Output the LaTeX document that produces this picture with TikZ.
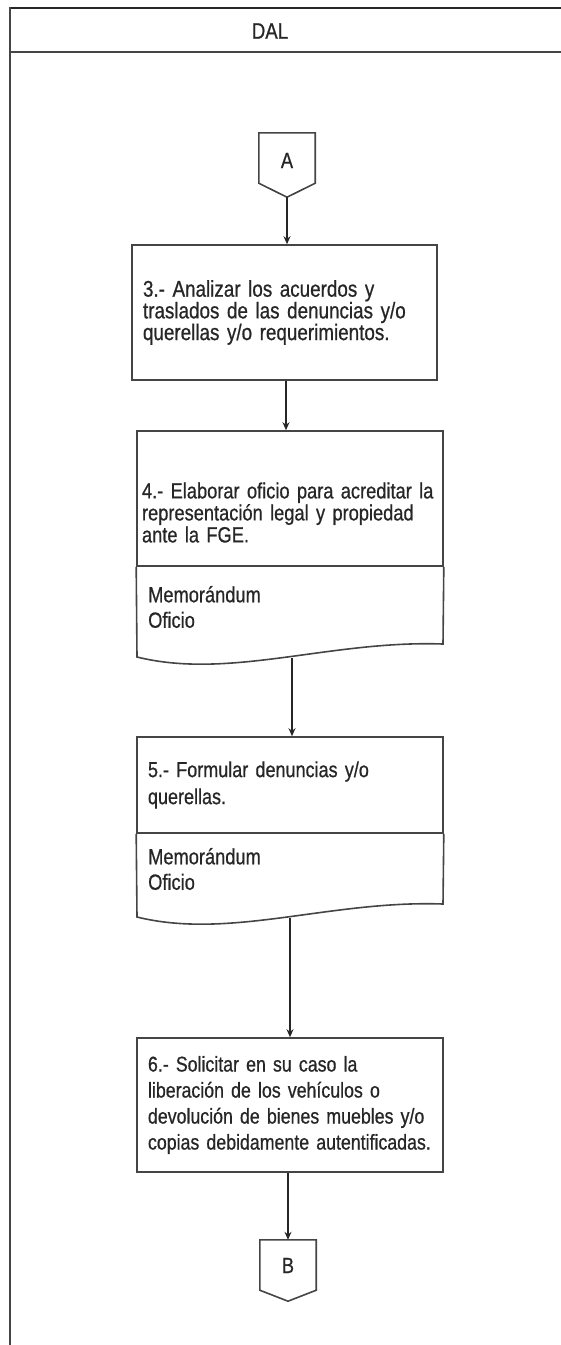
\documentclass[tikz,border=0pt]{standalone}
\usepackage{fontspec}
\setmainfont{Liberation Sans}[FakeStretch=0.83, FakeBold=0.7]
\usetikzlibrary{arrows.meta}
\definecolor{ink}{HTML}{262626}
\definecolor{edge}{HTML}{454545}
\begin{document}
\begin{tikzpicture}[x=1pt,y=-1pt,
  every node/.style={text=ink},
  txt/.style n args={2}{font=\fontsize{#1}{#2}\selectfont},
  stepbox/.style={draw=edge, line width=1.6pt, minimum width=306, text width=284,
    inner xsep=11, inner ysep=0, align=left},
  docline/.style={draw=edge, line width=1.6pt},
  memo/.style={inner sep=0, align=left, font=\fontsize{22}{25.5}\selectfont},
  offpage/.style={minimum width=56, inner sep=0, text height=16, text depth=10,
    font=\fontsize{22}{22}\selectfont},
  conn/.style={draw=ink, line width=1.3pt, -{Stealth[length=8pt,width=7pt]}}
]
\useasboundingbox (0,0) rectangle (561,1345);

% swimlane frame and header
\draw[line width=2.4pt, draw=ink] (9,8) -- (561,8);
\draw[line width=2pt, draw=edge] (9,52) -- (561,52);
\draw[line width=2.2pt, draw=edge] (10,7) -- (10,1345);
\node[txt={22.5}{22}] (lane) at (270,31) {DAL};

% off-page connector A
\node[offpage, minimum height=64] (a) at (287,165) {A};
\draw[docline] (a.north west) -- (a.north east) -- ([yshift=14pt]a.south east)
  -- (a.south) -- ([yshift=14pt]a.south west) -- cycle;

% step 3
\node[stepbox, txt={22.7}{21.7}, minimum width=305, text width=283, minimum height=135]
  (b3) at (284.5,312.5)
  {3.- Analizar los acuerdos y\\traslados de las denuncias y/o\\querellas y/o requerimientos.};

% step 4 with document part (first line strut lowers the block a little)
\node[stepbox, txt={22}{22}, inner xsep=5, text width=296, minimum height=135]
  (b4) at (290,498.5)
  {\rule{0pt}{44pt}4.- Elaborar oficio para acreditar la\\representación legal y propiedad\\ante la FGE.};
\draw[docline] (b4.south west) -- (137,657) .. controls (230,680) and (330,640) .. (443,644)
  -- (b4.south east);
\node[memo, anchor=west] (m4) at (148,607) {Memorándum\\Oficio};
\coordinate (w4) at (292,658);

% step 5 with document part
\node[stepbox, txt={21.7}{27}, minimum height=96] (b5) at (290,785)
  {5.- Formular denuncias y/o\\querellas.};
\draw[docline] (b5.south west) -- (137,917) .. controls (230,940) and (330,900) .. (443,904)
  -- (b5.south east);
\node[memo, anchor=west] (m5) at (148,869) {Memorándum\\Oficio};
\coordinate (w5) at (290,918);

% step 6
\node[stepbox, txt={21.4}{26}, minimum height=134] (b6) at (290,1105)
  {6.- Solicitar en su caso la\\liberación de los vehículos o\\devolución de bienes muebles y/o\\copias debidamente autentificadas.};

% off-page connector B
\node[offpage, minimum height=61, text depth=11] (b) at (288,1270.5) {B};
\draw[docline] (b.north west) -- (b.north east) -- ([yshift=11pt]b.south east)
  -- (b.south) -- ([yshift=11pt]b.south west) -- cycle;

% flow
\draw[conn] (a.south) -- (a.south |- b3.north);
\draw[conn] ([xshift=1.5pt]b3.south) -- ([xshift=1.5pt]b3.south |- b4.north);
\draw[conn] (w4) -- (w4 |- b5.north);
\draw[conn] (w5) -- (w5 |- b6.north);
\draw[conn] (b6.south -| b.north) -- (b.north);
\end{tikzpicture}
\end{document}
